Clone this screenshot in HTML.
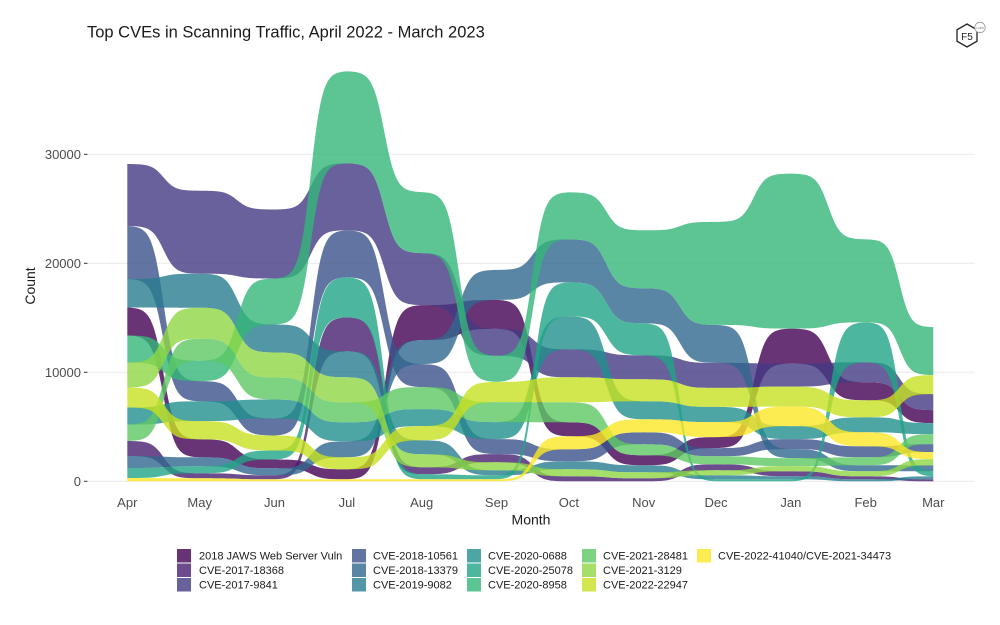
<!DOCTYPE html>
<html><head><meta charset="utf-8">
<style>
html,body{margin:0;padding:0;background:#fff;}
svg{display:block;font-family:"Liberation Sans",Arial,sans-serif;}
</style></head>
<body>
<svg id="s" width="1000" height="625" viewBox="0 0 1000 625" xmlns="http://www.w3.org/2000/svg">
<rect width="1000" height="625" fill="#fff"/>
<text x="87" y="37.5" font-size="16.5" fill="#1a1a1a">Top CVEs in Scanning Traffic, April 2022 - March 2023</text>
<g stroke="#ebebeb" stroke-width="1.1">
<line x1="88" x2="975" y1="154.3" y2="154.3"/>
<line x1="88" x2="975" y1="263.3" y2="263.3"/>
<line x1="88" x2="975" y1="372.3" y2="372.3"/>
<line x1="88" x2="975" y1="481.3" y2="481.3"/>
</g>
<g stroke="#333" stroke-width="1">
<line x1="84" x2="87.5" y1="154.3" y2="154.3"/>
<line x1="84" x2="87.5" y1="263.3" y2="263.3"/>
<line x1="84" x2="87.5" y1="372.3" y2="372.3"/>
<line x1="84" x2="87.5" y1="481.3" y2="481.3"/>
</g>
<g font-size="13" fill="#4d4d4d" text-anchor="end">
<text x="81" y="158.8">30000</text>
<text x="81" y="267.8">20000</text>
<text x="81" y="376.8">10000</text>
<text x="81" y="485.8">0</text>
</g>
<g id="rib"></g>
<g font-size="13" fill="#4d4d4d" text-anchor="middle">
<text x="127.3" y="507">Apr</text>
<text x="199.7" y="507">May</text>
<text x="274.5" y="507">Jun</text>
<text x="346.9" y="507">Jul</text>
<text x="421.7" y="507">Aug</text>
<text x="496.5" y="507">Sep</text>
<text x="568.9" y="507">Oct</text>
<text x="643.7" y="507">Nov</text>
<text x="716.1" y="507">Dec</text>
<text x="790.9" y="507">Jan</text>
<text x="865.7" y="507">Feb</text>
<text x="933.3" y="507">Mar</text>
</g>
<text x="531" y="524.5" font-size="14" fill="#1a1a1a" text-anchor="middle">Month</text>
<text transform="translate(35,286) rotate(-90)" font-size="14" fill="#1a1a1a" text-anchor="middle">Count</text>

<g font-size="11" fill="#1a1a1a">
<rect x="177" y="549" width="14" height="13.5" fill="#440154" fill-opacity="0.8"/>
<text x="199" y="559.5">2018 JAWS Web Server Vuln</text>
<rect x="177" y="563.5" width="14" height="13.5" fill="#481F70" fill-opacity="0.8"/>
<text x="199" y="574">CVE-2017-18368</text>
<rect x="177" y="578" width="14" height="13.5" fill="#443A83" fill-opacity="0.8"/>
<text x="199" y="588.5">CVE-2017-9841</text>

<rect x="352" y="549" width="14" height="13.5" fill="#3B528B" fill-opacity="0.8"/>
<text x="373" y="559.5">CVE-2018-10561</text>
<rect x="352" y="563.5" width="14" height="13.5" fill="#31688E" fill-opacity="0.8"/>
<text x="373" y="574">CVE-2018-13379</text>
<rect x="352" y="578" width="14" height="13.5" fill="#287C8E" fill-opacity="0.8"/>
<text x="373" y="588.5">CVE-2019-9082</text>

<rect x="467" y="549" width="14" height="13.5" fill="#21908C" fill-opacity="0.8"/>
<text x="488" y="559.5">CVE-2020-0688</text>
<rect x="467" y="563.5" width="14" height="13.5" fill="#20A486" fill-opacity="0.8"/>
<text x="488" y="574">CVE-2020-25078</text>
<rect x="467" y="578" width="14" height="13.5" fill="#35B779" fill-opacity="0.8"/>
<text x="488" y="588.5">CVE-2020-8958</text>

<rect x="582" y="549" width="14" height="13.5" fill="#5DC863" fill-opacity="0.8"/>
<text x="603" y="559.5">CVE-2021-28481</text>
<rect x="582" y="563.5" width="14" height="13.5" fill="#8FD744" fill-opacity="0.8"/>
<text x="603" y="574">CVE-2021-3129</text>
<rect x="582" y="578" width="14" height="13.5" fill="#C7E020" fill-opacity="0.8"/>
<text x="603" y="588.5">CVE-2022-22947</text>

<rect x="697" y="549" width="14" height="13.5" fill="#FDE725" fill-opacity="0.8"/>
<text x="718" y="559.5">CVE-2022-41040/CVE-2021-34473</text>
</g>

<!-- F5 logo -->
<g>
<polygon points="967,24 977,29.75 977,41.25 967,47 957,41.25 957,29.75" fill="#fff" stroke="#222" stroke-width="1.3"/>
<text x="967" y="40" font-size="10" fill="#222" text-anchor="middle">F5</text>
<circle cx="980" cy="27.5" r="5.2" fill="#fff" stroke="#999" stroke-width="0.8"/>
<text x="980" y="29" font-size="3" fill="#777" text-anchor="middle">LABS</text>
</g>
</svg>
<script>
(function(){
var base=['#440154','#481F70','#443A83','#3B528B','#31688E','#287C8E','#21908C','#20A486','#35B779','#5DC863','#8FD744','#C7E020','#FDE725'];
// order: J, A, B, C, D, E, F, G, H, I, K, L, M
var months=[
[28,15,62,53,12,28.5,17,10,27,16.5,25,20,3.3],
[18,5,83,20.2,9,34,19.8,7,20.4,22,31,18.2,3],
[8.8,4,69,17,7,28,19,9,46,22,25,15,2],
[10,34,67,47,16,26,19,40,92,20,25,12,2],
[35,7,52,23,24,14,17,5,61,22,13,14.2,2],
[29,8.2,27,15,30,5,17,4,26,20,8,20.2,2],
[14,5,28,12,43,8,33,34,47,20,7,25,13],
[10,3,24,12,35,7,18,32,58,11,6,22,13],
[11,6,25,8.2,38,4,15.2,2,103,8,5,19,15],
[35,5,23,10,9,3,13,2,155,8,5.2,20,19.5],
[18,3,20,11,6,2,15,40,83,8,5,17,14],
[13,2,16,8,6,3,11,5,48,10,6.2,19,7]
];
var xs=[127.3,199.7,274.5,346.9,421.7,496.5,568.9,643.7,716.1,790.9,865.7,933.3];
var B0=481.3;
var n=13, M=12;
var top=[],bot=[];
for(var s=0;s<n;s++){top.push([]);bot.push([]);}
for(var m=0;m<M;m++){
  var h=months[m];
  var idx=[];for(var s=0;s<n;s++)idx.push(s);
  idx.sort(function(a,b){ if(h[a]!==h[b]) return h[a]-h[b]; return b-a;});
  var cum=0;
  for(var k=0;k<n;k++){var s=idx[k];bot[s][m]=B0-cum;cum+=h[s];top[s][m]=B0-cum;}
}
var K=12.5;
var a=1/(1+Math.exp(K/2)), b=1-a;
function sig(t){return (1/(1+Math.exp(-K*(t-0.5)))-a)/(b-a);}
function yAt(arr,x){
  if(x<=xs[0])return arr[0];
  if(x>=xs[M-1])return arr[M-1];
  var i=0;while(i<M-2&&x>xs[i+1])i++;
  var t=(x-xs[i])/(xs[i+1]-xs[i]);
  return arr[i]+(arr[i+1]-arr[i])*sig(t);
}
var samples=[];
for(var x=xs[0];x<xs[M-1];x+=1)samples.push(x);
samples.push(xs[M-1]);
var g=document.getElementById('rib');
var NS='http://www.w3.org/2000/svg';
for(var s=0;s<n;s++){
  var d='';
  for(var i=0;i<samples.length;i++){
    var x=samples[i];
    d+=(i?'L':'M')+x.toFixed(1)+','+yAt(top[s],x).toFixed(2);
  }
  for(var i=samples.length-1;i>=0;i--){
    var x=samples[i];
    d+='L'+x.toFixed(1)+','+yAt(bot[s],x).toFixed(2);
  }
  d+='Z';
  var p=document.createElementNS(NS,'path');
  p.setAttribute('d',d);
  p.setAttribute('fill',base[s]);
  p.setAttribute('fill-opacity','0.8');
  p.setAttribute('stroke','none');
  g.appendChild(p);
}
})();
</script>
</body></html>
